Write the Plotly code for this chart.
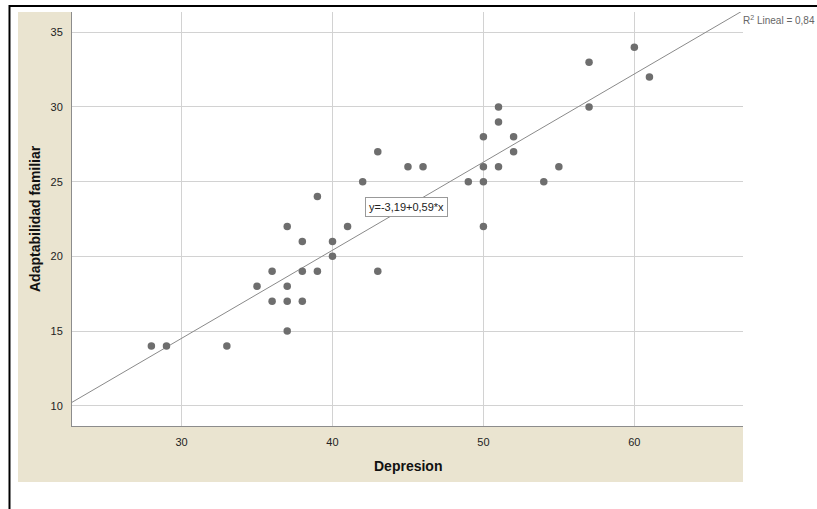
import plotly.graph_objects as go

depresion = [28, 29, 33, 35, 36, 36, 37, 37, 37, 37, 38, 38, 38, 39, 39, 40, 40, 41, 42, 43, 43,
             45, 46, 49, 50, 50, 50, 50, 51, 51, 51, 52, 52, 54, 55, 57, 57, 60, 61]
adaptabilidad = [14, 14, 14, 18, 19, 17, 22, 18, 17, 15, 21, 19, 17, 24, 19, 21, 20, 22, 25, 27, 19,
                 26, 26, 25, 28, 26, 25, 22, 30, 29, 26, 28, 27, 25, 26, 33, 30, 34, 32]
intercept = -3.19
slope = 0.59
x_range = [22.74, 67.2]
y_range = [8.64, 36.36]
x_ticks = [30, 40, 50, 60]
y_ticks = [10, 15, 20, 25, 30, 35]

W, H = 817, 509
L, R, T, B = 72, 743, 12, 426
pw, ph = R - L, B - T

def px(xp):
    return (xp - L) / pw

def py(yp):
    return (B - yp) / ph

fig = go.Figure()
fit_x = x_range
fit_y = [intercept + slope * v for v in fit_x]
fig.add_trace(go.Scatter(x=fit_x, y=fit_y, mode="lines",
                         line=dict(color="#8a8a8a", width=1), hoverinfo="skip"))
fig.add_trace(go.Scatter(x=depresion, y=adaptabilidad, mode="markers",
                         marker=dict(color="#6e6e6e", size=7.5, line=dict(width=0))))

shapes = [
    dict(type="rect", xref="paper", yref="paper", x0=px(18), x1=px(743), y0=py(482), y1=py(12),
         fillcolor="#EAE4D0", line=dict(width=0), layer="below"),
    dict(type="rect", xref="paper", yref="paper", x0=0, x1=1, y0=0, y1=1,
         fillcolor="white", line=dict(width=0), layer="below"),
    dict(type="rect", xref="paper", yref="paper", x0=px(9.5), x1=px(830), y0=py(520), y1=py(6),
         fillcolor="rgba(0,0,0,0)", line=dict(color="black", width=2), layer="above"),
]

annotations = [
    dict(text="Adaptabilidad familiar", xref="paper", yref="paper", x=px(35), y=0.5,
         textangle=-90, showarrow=False, xanchor="center", yanchor="middle",
         font=dict(family="Liberation Sans, Arial", size=14, color="#111", weight="bold")),
    dict(text="Depresion", xref="paper", yref="paper", x=0.5, y=py(466),
         showarrow=False, xanchor="center", yanchor="middle",
         font=dict(family="Liberation Sans, Arial", size=14, color="#111", weight="bold")),
    dict(text="R<sup>2</sup> Lineal = 0,84", xref="paper", yref="paper", x=px(816), y=py(20),
         showarrow=False, xanchor="right", yanchor="middle", borderpad=0,
         font=dict(family="Liberation Sans, Arial", size=10, color="#666")),
    dict(text="y=-3,19+0,59*x", xref="x", yref="y", x=44.88, y=23.3,
         showarrow=False, xanchor="center", yanchor="middle", bgcolor="white",
         bordercolor="#999", borderwidth=1, borderpad=3,
         font=dict(family="Liberation Sans, Arial", size=11, color="#222")),
]

fig.update_layout(
    width=W, height=H,
    margin=dict(l=L, r=W - R, t=T, b=H - B),
    paper_bgcolor="white", plot_bgcolor="white",
    showlegend=False,
    shapes=shapes, annotations=annotations,
    xaxis=dict(range=x_range, tickvals=x_ticks, showgrid=True, gridcolor="#d2d2d2", gridwidth=1,
               zeroline=False, showline=True, linecolor="#8c8c8c", linewidth=1,
               tickfont=dict(family="Liberation Sans, Arial", size=11, color="#222"),
               ticks="", ticklabelstandoff=6),
    yaxis=dict(range=y_range, tickvals=y_ticks, showgrid=True, gridcolor="#d2d2d2", gridwidth=1,
               zeroline=False, showline=True, linecolor="#8c8c8c", linewidth=1,
               tickfont=dict(family="Liberation Sans, Arial", size=11, color="#222"),
               ticks="", ticklabelstandoff=6),
)

fig.write_html("out.html", config={"displayModeBar": False},
               post_script="document.body.style.margin='0';document.body.style.overflow='hidden';")
